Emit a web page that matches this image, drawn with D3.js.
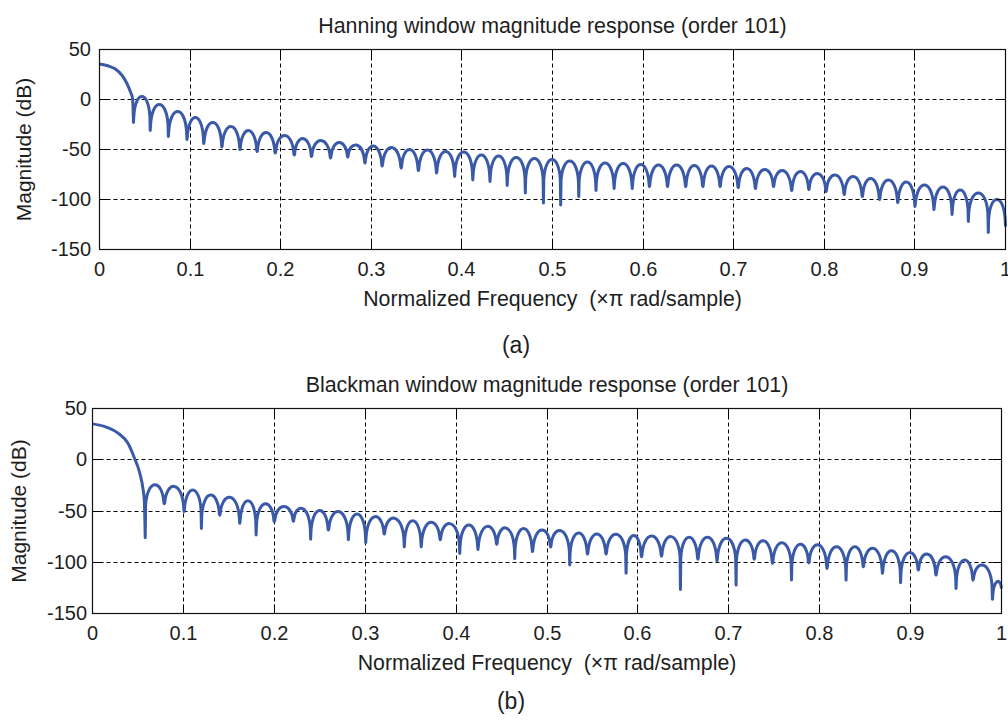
<!DOCTYPE html>
<html>
<head>
<meta charset="utf-8">
<script src="https://cdn.jsdelivr.net/npm/d3@7"></script>
<style>
  body { margin: 0; background: #fff; }
  text { font-family: "Liberation Sans", Arial, sans-serif; fill: #1e1e1e; }
</style>
</head>
<body>
<svg id="chart" width="1008" height="722"></svg>
<script>
// ticks
var xTicks = [0, 0.1, 0.2, 0.3, 0.4, 0.5, 0.6, 0.7, 0.8, 0.9, 1];
var xTickLabels = ["0", "0.1", "0.2", "0.3", "0.4", "0.5", "0.6", "0.7", "0.8", "0.9", "1"];
var yTicks = [50, 0, -50, -100, -150];
var yTickLabels = ["50", "0", "-50", "-100", "-150"];

// Hanning: main lobe [freq, dB], then nulls and the peak of each side lobe between them
var hannMain = [[0, 35.5], [0.01, 33.5], [0.0175, 30.5], [0.025, 24], [0.03, 16.5], [0.034, 8], [0.0365, 1]];
var hannNullFreq = [0.0375, 0.056, 0.076, 0.0965, 0.115, 0.135, 0.155, 0.174, 0.194, 0.215,
  0.234, 0.255, 0.274, 0.293, 0.312, 0.333, 0.352, 0.372, 0.392, 0.412,
  0.431, 0.450, 0.470, 0.490, 0.509, 0.529, 0.548, 0.568, 0.588, 0.607,
  0.627, 0.647, 0.666, 0.685, 0.705, 0.724, 0.744, 0.764, 0.783, 0.802,
  0.822, 0.842, 0.861, 0.881, 0.900, 0.921, 0.941, 0.959, 0.981, 1.0];
var hannNullDb = [-23, -31, -37, -40, -44, -47.5, -50, -52, -53.5, -55.5,
  -57, -58.5, -57.5, -63.5, -66.5, -68.5, -71, -73.5, -77, -80.5,
  -82, -86, -93.5, -103.5, -105.5, -97, -91, -89, -89, -87,
  -87, -87, -87, -87, -88, -89, -87, -91, -90, -92,
  -95, -97, -100, -103, -107, -110, -115, -122, -133, -127];
var hannPeakDb = [3, -5, -12, -18, -23, -27, -31, -33, -36, -39,
  -41, -43, -45.5, -46.5, -48, -50, -50.5, -52, -52.5, -55.5,
  -56.5, -58, -59, -60, -61.5, -62.5, -63.5, -64, -65, -65.5,
  -65.5, -66, -66.5, -67, -69, -70, -71, -72, -74, -75.5,
  -77, -79, -80.5, -82.5, -85.5, -87.5, -90.5, -93.5, -100];

// Blackman
var blackMain = [[0, 35], [0.013, 32.5], [0.028, 26], [0.039, 16], [0.046, 2], [0.052, -13], [0.0555, -28], [0.057, -40]];
var blackNullFreq = [0.058, 0.079, 0.1007, 0.1198, 0.140, 0.162, 0.180, 0.200, 0.221, 0.240,
  0.2595, 0.2815, 0.3006, 0.321, 0.343, 0.3616, 0.3826, 0.404, 0.424, 0.4447,
  0.4645, 0.484, 0.504, 0.525, 0.5446, 0.565, 0.587, 0.604, 0.626, 0.6468,
  0.666, 0.687, 0.708, 0.728, 0.748, 0.769, 0.788, 0.808, 0.829, 0.848,
  0.869, 0.889, 0.9085, 0.928, 0.950, 0.9687, 0.990, 1.0];
var blackNullDb = [-76, -43, -50.6, -67, -54, -62, -73.4, -60.4, -60, -77.6,
  -68.5, -78, -81, -72.5, -85, -85, -78, -91.5, -87.5, -82.5,
  -96.5, -89.5, -85, -102.7, -92, -92, -110.8, -94.6, -94, -126.5,
  -97, -98.5, -122.3, -97, -101, -117.4, -100.6, -106, -117.4, -104.4,
  -110.8, -120, -107.6, -112.5, -125.6, -117.4, -136, -125.6];
var blackPeakDb = [-24.5, -26, -29.4, -34.5, -36.6, -40, -43, -45.7, -47.5, -49.5,
  -50.6, -52.9, -55.5, -57, -59.4, -61, -62.3, -63.6, -65, -66.5,
  -67, -68.5, -69, -71.5, -72.4, -72.7, -74, -74.4, -75, -75.7,
  -75.7, -76.7, -78.3, -79, -81, -82.5, -83, -84.8, -84.8, -86.4,
  -88.7, -90.6, -92, -94.6, -97.8, -102.7, -119];

var panels = [
  {title: "Hanning window magnitude response (order 101)", letter: "(a)",
   main: hannMain, nullF: hannNullFreq, nullDb: hannNullDb, peakDb: hannPeakDb,
   left: 99.5, top: 49.5, width: 906, height: 200, yPad: 8.5, yLabelX: 31, letterX: 516, letterY: 353},
  {title: "Blackman window magnitude response (order 101)", letter: "(b)",
   main: blackMain, nullF: blackNullFreq, nullDb: blackNullDb, peakDb: blackPeakDb,
   left: 92.5, top: 408.5, width: 909, height: 205, yPad: 5.5, yLabelX: 26, letterX: 511, letterY: 709}
];

var svg = d3.select("#chart");
var tickLen = 9;

// one side lobe: spike up to a shoulder, bezier arch over the peak, spike down to the next null
function lobePath(p, x, y, f0, f1, d0, d1, peak) {
  var w = f1 - f0;
  var s0 = Math.max(peak - 20, d0 + 1), s1 = Math.max(peak - 20, d1 + 1);
  var c = peak + (peak - (s0 + s1) / 2) / 3;
  p.lineTo(x(f0 + 0.02 * w), y(s0));
  p.bezierCurveTo(x(f0 + 0.113 * w), y(c), x(f1 - 0.113 * w), y(c), x(f1 - 0.02 * w), y(s1));
  p.lineTo(x(f1), y(d1));
}

panels.forEach(function(cfg) {
  var g = svg.append("g").attr("transform", "translate(" + cfg.left + "," + cfg.top + ")");
  var x = d3.scaleLinear().domain([0, 1]).range([0, cfg.width]);
  var y = d3.scaleLinear().domain([-150, 50]).range([cfg.height, 0]);
  // rounded copies keep grid and ticks crisp
  var xr = x.copy().interpolate(d3.interpolateRound);
  var yr = y.copy().interpolate(d3.interpolateRound);

  // grid
  g.selectAll(".vgrid").data(xTicks.slice(1, -1)).enter().append("line")
    .attr("x1", function(d){ return xr(d); }).attr("x2", function(d){ return xr(d); })
    .attr("y1", 0).attr("y2", cfg.height)
    .attr("stroke", "#000").attr("stroke-width", 1).attr("stroke-dasharray", "4,3");
  g.selectAll(".hgrid").data(yTicks.slice(1, -1)).enter().append("line")
    .attr("y1", function(d){ return yr(d); }).attr("y2", function(d){ return yr(d); })
    .attr("x1", 0).attr("x2", cfg.width)
    .attr("stroke", "#000").attr("stroke-width", 1).attr("stroke-dasharray", "4,3");

  // curve
  var p = d3.path();
  var mainLine = d3.line()
    .x(function(d){ return x(d[0]); })
    .y(function(d){ return y(d[1]); })
    .curve(d3.curveMonotoneX)
    .context(p);
  mainLine(cfg.main.concat([[cfg.nullF[0], cfg.nullDb[0]]]));
  cfg.peakDb.forEach(function(pk, i) {
    lobePath(p, x, y, cfg.nullF[i], cfg.nullF[i + 1], cfg.nullDb[i], cfg.nullDb[i + 1], pk);
  });
  g.append("path").attr("d", p.toString())
    .attr("fill", "none").attr("stroke", "#3a5aa8").attr("stroke-width", 3)
    .attr("stroke-linejoin", "round");

  // axes with inward ticks
  var xb = g.append("g").attr("transform", "translate(0," + cfg.height + ")")
    .call(d3.axisBottom(xr).tickValues(xTicks).tickFormat(function(d, i){ return xTickLabels[i]; })
      .tickSizeInner(-tickLen).tickSizeOuter(0).tickPadding(12.5).offset(0));
  var xt = g.append("g")
    .call(d3.axisTop(xr).tickValues(xTicks).tickFormat("").tickSizeInner(-tickLen).tickSizeOuter(0).offset(0));
  var yl = g.append("g")
    .call(d3.axisLeft(yr).tickValues(yTicks).tickFormat(function(d, i){ return yTickLabels[i]; })
      .tickSizeInner(-tickLen).tickSizeOuter(0).tickPadding(cfg.yPad).offset(0));
  var yri = g.append("g").attr("transform", "translate(" + cfg.width + ",0)")
    .call(d3.axisRight(yr).tickValues(yTicks).tickFormat("").tickSizeInner(-tickLen).tickSizeOuter(0).offset(0));
  [xb, xt, yl, yri].forEach(function(a) {
    a.select(".domain").remove();
    a.selectAll("line").attr("stroke", "#000");
    a.selectAll("text").attr("font-size", 20).attr("fill", "#1e1e1e")
      .style("font-family", "'Liberation Sans', Arial, sans-serif");
  });

  g.append("rect").attr("x", 0).attr("y", 0).attr("width", cfg.width).attr("height", cfg.height)
    .attr("fill", "none").attr("stroke", "#111").attr("stroke-width", 1.2);

  // labels
  g.append("text").attr("x", cfg.width / 2).attr("y", -17)
    .attr("text-anchor", "middle").attr("font-size", 21.4).text(cfg.title);
  g.append("text").attr("x", cfg.width / 2).attr("y", cfg.height + 56.5)
    .attr("text-anchor", "middle").attr("font-size", 21.3)
    .text("Normalized Frequency  (\u00d7\u03c0 rad/sample)")
    .attr("xml:space", "preserve").style("white-space", "pre");
  svg.append("text")
    .attr("transform", "translate(" + cfg.yLabelX + "," + (cfg.top + cfg.height / 2) + ") rotate(-90)")
    .attr("text-anchor", "middle").attr("font-size", 21).text("Magnitude (dB)");
  svg.append("text").attr("x", cfg.letterX).attr("y", cfg.letterY)
    .attr("text-anchor", "middle").attr("font-size", 23).text(cfg.letter);
});
</script>
</body>
</html>
